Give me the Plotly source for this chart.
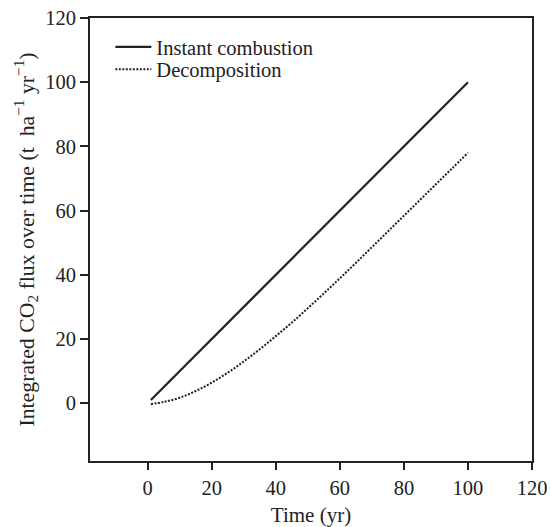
import plotly.graph_objects as go

time_instant = [1, 100]
flux_instant = [1, 100]

time_decomp = [1, 5, 10, 15, 20, 25, 30, 35, 40, 45, 50, 55, 60, 65, 70, 75, 80, 85, 90, 95, 100]
flux_decomp = [-0.3, 0.4, 1.7, 3.8, 6.4, 9.5, 13.0, 16.8, 20.9, 25.1, 29.6, 34.2, 38.9, 43.7, 48.6, 53.5, 58.4, 63.3, 68.2, 73.1, 78.0]

x_ticks = [0, 20, 40, 60, 80, 100, 120]
y_ticks = [0, 20, 40, 60, 80, 100, 120]

font_family = "Liberation Serif"
ink = "#222222"

fig = go.Figure()
fig.add_trace(go.Scatter(x=time_instant, y=flux_instant, mode="lines",
                         name="Instant combustion", legend="legend",
                         line=dict(color=ink, width=2.2)))
fig.add_trace(go.Scatter(x=time_decomp, y=flux_decomp, mode="lines",
                         name="Decomposition", line_shape="spline", legend="legend2",
                         line=dict(color=ink, width=2, dash="2px,1.5px")))

legend_common = dict(xanchor="left", yanchor="middle", bgcolor="rgba(0,0,0,0)",
                     font=dict(family=font_family, size=20.5, color=ink), itemwidth=36)

fig.update_layout(
    width=550, height=527,
    margin=dict(l=90, r=18, t=18, b=66),
    paper_bgcolor="white", plot_bgcolor="white",
    font=dict(family=font_family, size=20, color=ink),
    showlegend=True,
    legend=dict(x=0.046, y=0.9345, **legend_common),
    legend2=dict(x=0.046, y=0.884, **legend_common),
    xaxis=dict(range=[-18, 120], tickvals=x_ticks, showgrid=False, zeroline=False,
               showline=True, linecolor=ink, linewidth=2, mirror=True, automargin=False,
               ticks="outside", ticklen=7, tickwidth=1.5, tickcolor=ink,
               tickfont=dict(family=font_family, size=20.5),
               title=dict(text="Time (yr)", font=dict(family=font_family, size=21), standoff=10)),
    yaxis=dict(range=[-18, 120], tickvals=y_ticks, showgrid=False, zeroline=False,
               showline=True, linecolor=ink, linewidth=2, mirror=True, automargin=False,
               ticks="outside", ticklen=8, tickwidth=1.5, tickcolor=ink,
               tickfont=dict(family=font_family, size=20.5),
               title=dict(text="Integrated CO<sub>2</sub> flux over time (t  ha<sup>−1</sup> yr<sup>−1</sup>)",
                          font=dict(family=font_family, size=21.8), standoff=5)),
)

fig.write_html("out.html")
